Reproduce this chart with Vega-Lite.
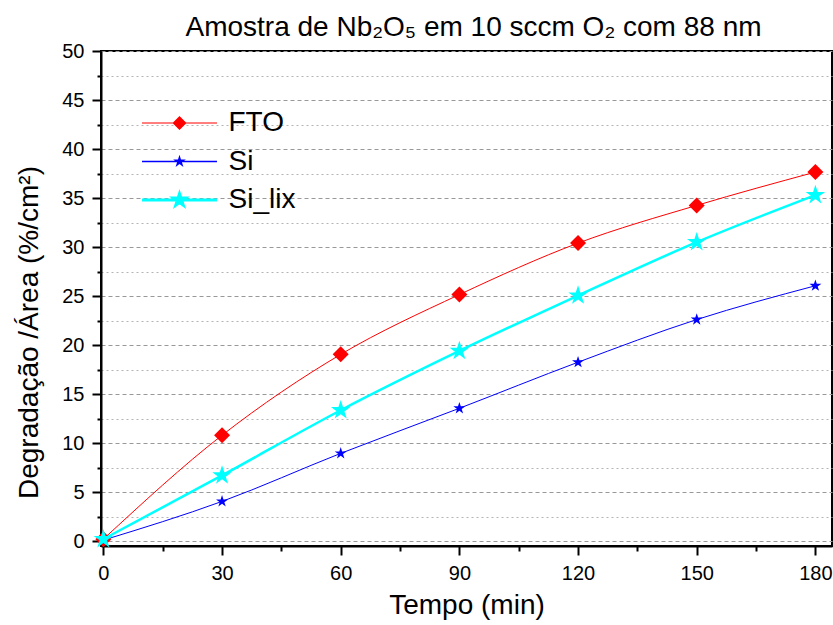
{
  "$schema": "https://vega.github.io/schema/vega-lite/v6.json",
  "width": 731,
  "height": 495,
  "autosize": {"type": "none"},
  "padding": {"left": 101, "top": 51, "right": 1, "bottom": 79},
  "background": "white",
  "config": {
    "font": "Liberation Sans",
    "view": {"stroke": "black", "strokeWidth": 2}
  },
  "title": {
    "text": "Amostra de Nb₂O₅ em 10 sccm O₂ com 88 nm",
    "fontSize": 28,
    "fontWeight": "normal",
    "font": "Liberation Sans",
    "color": "black",
    "offset": -1,
    "dx": 7
  },
  "data": {
    "values": [
      {"series": "FTO", "t": 0, "v": 0.2},
      {"series": "FTO", "t": 30, "v": 10.8},
      {"series": "FTO", "t": 60, "v": 19.05},
      {"series": "FTO", "t": 90, "v": 25.15},
      {"series": "FTO", "t": 120, "v": 30.4},
      {"series": "FTO", "t": 150, "v": 34.25},
      {"series": "FTO", "t": 180, "v": 37.65},
      {"series": "Si", "t": 0, "v": 0.1},
      {"series": "Si", "t": 30, "v": 4.05},
      {"series": "Si", "t": 60, "v": 8.95},
      {"series": "Si", "t": 90, "v": 13.55},
      {"series": "Si", "t": 120, "v": 18.25},
      {"series": "Si", "t": 150, "v": 22.6},
      {"series": "Si", "t": 180, "v": 26.05},
      {"series": "Si_lix", "t": 0, "v": 0.2},
      {"series": "Si_lix", "t": 30, "v": 6.7},
      {"series": "Si_lix", "t": 60, "v": 13.35},
      {"series": "Si_lix", "t": 90, "v": 19.4},
      {"series": "Si_lix", "t": 120, "v": 25.05},
      {"series": "Si_lix", "t": 150, "v": 30.5},
      {"series": "Si_lix", "t": 180, "v": 35.3}
    ]
  },
  "encoding": {
    "x": {
      "field": "t",
      "type": "quantitative",
      "scale": {"domain": [-0.6, 184.2], "nice": false, "zero": false},
      "axis": {
        "values": [0, 15, 30, 45, 60, 75, 90, 105, 120, 135, 150, 165, 180],
        "labelExpr": "datum.value % 30 === 0 ? format(datum.value, 'd') : ''",
        "labelFontSize": 20,
        "labelColor": "black",
        "labelPadding": 8,
        "labelFlush": false,
        "tickSize": {"condition": {"test": "datum.value % 30 === 0", "value": 9}, "value": 5},
        "tickColor": "black",
        "tickWidth": 2,
        "domainColor": "black",
        "domainWidth": 2,
        "grid": false,
        "title": "Tempo (min)",
        "titleFontSize": 28,
        "titleFontWeight": "normal",
        "titleColor": "black",
        "titleBaseline": "alphabetic",
        "titleY": 67
      }
    },
    "y": {
      "field": "v",
      "type": "quantitative",
      "scale": {"domain": [-0.5, 50], "nice": false, "zero": false},
      "axis": {
        "values": [0, 2.5, 5, 7.5, 10, 12.5, 15, 17.5, 20, 22.5, 25, 27.5, 30, 32.5, 35, 37.5, 40, 42.5, 45, 47.5, 50],
        "labelExpr": "datum.value % 5 === 0 ? format(datum.value, 'd') : ''",
        "labelFontSize": 20,
        "labelColor": "black",
        "labelPadding": 8,
        "labelFlush": false,
        "tickSize": {"condition": {"test": "datum.value % 5 === 0", "value": 9}, "value": 4},
        "tickColor": "black",
        "tickWidth": 2,
        "domainColor": "black",
        "domainWidth": 2,
        "grid": true,
        "gridColor": {"condition": {"test": "datum.value % 5 === 0", "value": "#999999"}, "value": "#b4b4b4"},
        "gridDash": {"condition": {"test": "datum.value % 5 === 0", "value": [4, 3]}, "value": [2, 3]},
        "gridWidth": 1,
        "title": "Degradação /Área (%/cm²)",
        "titleFontSize": 28,
        "titleFontWeight": "normal",
        "titleColor": "black",
        "titleAngle": 270,
        "titleAlign": "center",
        "titleBaseline": "alphabetic",
        "titleX": -64,
        "titleY": 281
      }
    },
    "color": {
      "field": "series",
      "type": "nominal",
      "scale": {"domain": ["FTO", "Si", "Si_lix"], "range": ["#ff0000", "#0000ff", "#00ffff"]},
      "legend": {
        "title": null,
        "orient": "none",
        "legendX": 64.5,
        "legendY": 58,
        "padding": 0,
        "labelFontSize": 28,
        "labelColor": "black",
        "labelFont": "Liberation Sans",
        "symbolSize": 196,
        "labelOffset": 35,
        "rowPadding": 10.5,
        "encode": {
          "symbols": {
            "update": {
              "size": {"signal": "datum.value === 'Si_lix' ? 488 : datum.value === 'Si' ? 178 : 196"},
              "stroke": {"value": "transparent"},
              "strokeWidth": {"value": 0},
              "opacity": {"value": 1},
              "fillOpacity": {"value": 1}
            }
          }
        }
      }
    }
  },
  "layer": [
    {
      "mark": {"type": "line", "interpolate": "monotone"},
      "encoding": {
        "strokeWidth": {"condition": {"test": "datum.series === 'Si_lix'", "value": 2.5}, "value": 1}
      }
    },
    {
      "mark": {"type": "point", "filled": true, "opacity": 1},
      "encoding": {
        "shape": {
          "condition": {"test": "datum.series === 'FTO'", "value": "M0,-1L1,0L0,1L-1,0Z"},
          "value": "M0,-1L0.2245,-0.309L0.9511,-0.309L0.3633,0.118L0.5878,0.809L0,0.382L-0.5878,0.809L-0.3633,0.118L-0.9511,-0.309L-0.2245,-0.309Z"
        },
        "size": {"condition": [{"test": "datum.series === 'Si_lix'", "value": 420}, {"test": "datum.series === 'Si'", "value": 160}], "value": 256}
      }
    },
    {
      "transform": [{"filter": "datum.t < 0"}],
      "mark": {"type": "point", "filled": true, "opacity": 1},
      "encoding": {
        "shape": {
          "field": "series",
          "type": "nominal",
          "scale": {
            "domain": ["FTO", "Si", "Si_lix"],
            "range": [
              "M-5.36,-0.08H5.36V0.08H-5.36Z M0,-1L1,0L0,1L-1,0Z",
              "M-5.62,-0.11H5.62V0.11H-5.62Z M0,-1L0.2245,-0.309L0.9511,-0.309L0.3633,0.118L0.5878,0.809L0,0.382L-0.5878,0.809L-0.3633,0.118L-0.9511,-0.309L-0.2245,-0.309Z",
              "M-3.39,-0.13H3.39V0.13H-3.39Z M0,-1L0.2245,-0.309L0.9511,-0.309L0.3633,0.118L0.5878,0.809L0,0.382L-0.5878,0.809L-0.3633,0.118L-0.9511,-0.309L-0.2245,-0.309Z"
            ]
          },
          "legend": null
        }
      }
    }
  ]
}
